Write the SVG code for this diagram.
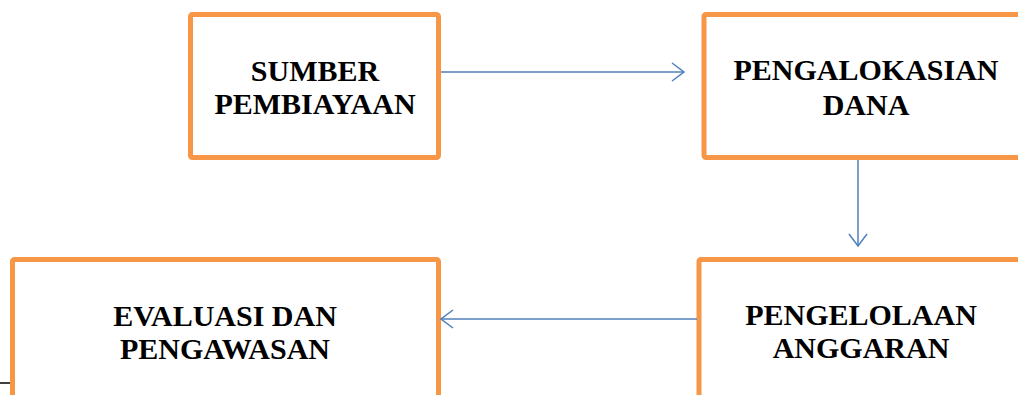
<svg xmlns="http://www.w3.org/2000/svg" width="1018" height="395" viewBox="0 0 1018 395">
<style>
.box{fill:#fff;stroke:#F79646;stroke-width:5;stroke-linejoin:round}
.t{font-family:"Liberation Serif","Times New Roman",serif;font-weight:bold;font-size:30px;fill:#000;text-anchor:middle}
.c{fill:none;stroke:#4F81BD;stroke-width:1.5}
</style>
<defs>
<marker id="ah" viewBox="0 0 14 20" refX="13" refY="10" markerWidth="14" markerHeight="20" markerUnits="userSpaceOnUse" orient="auto">
<path d="M1,1 L13,10 L1,19" fill="none" stroke="#4F81BD" stroke-width="1.5"/>
</marker>
</defs>
<rect width="1018" height="395" fill="#fff"/>
<g id="n1">
<rect class="box" x="190.5" y="14.5" width="248" height="143" rx="2"/>
<text class="t" x="315" y="81">SUMBER</text>
<text class="t" x="315" y="114">PEMBIAYAAN</text>
</g>
<g id="n2">
<rect class="box" x="704" y="14.5" width="330" height="143" rx="2"/>
<text class="t" x="866" y="80">PENGALOKASIAN</text>
<text class="t" x="866" y="115">DANA</text>
</g>
<g id="n3">
<rect class="box" x="699" y="259.5" width="330" height="160" rx="2"/>
<text class="t" x="861" y="325">PENGELOLAAN</text>
<text class="t" x="861" y="358">ANGGARAN</text>
</g>
<g id="n4">
<rect class="box" x="12.5" y="259.5" width="426" height="160" rx="2"/>
<text class="t" x="225" y="326">EVALUASI DAN</text>
<text class="t" x="225" y="359">PENGAWASAN</text>
</g>
<g id="connectors">
<line class="c" x1="441" y1="72" x2="684" y2="72" marker-end="url(#ah)"/>
<line class="c" x1="858" y1="160" x2="858" y2="246" marker-end="url(#ah)"/>
<line class="c" x1="697" y1="319" x2="441" y2="319" marker-end="url(#ah)"/>
<line x1="0" y1="383" x2="10" y2="383" stroke="#000" stroke-width="1.5"/>
</g>
</svg>
